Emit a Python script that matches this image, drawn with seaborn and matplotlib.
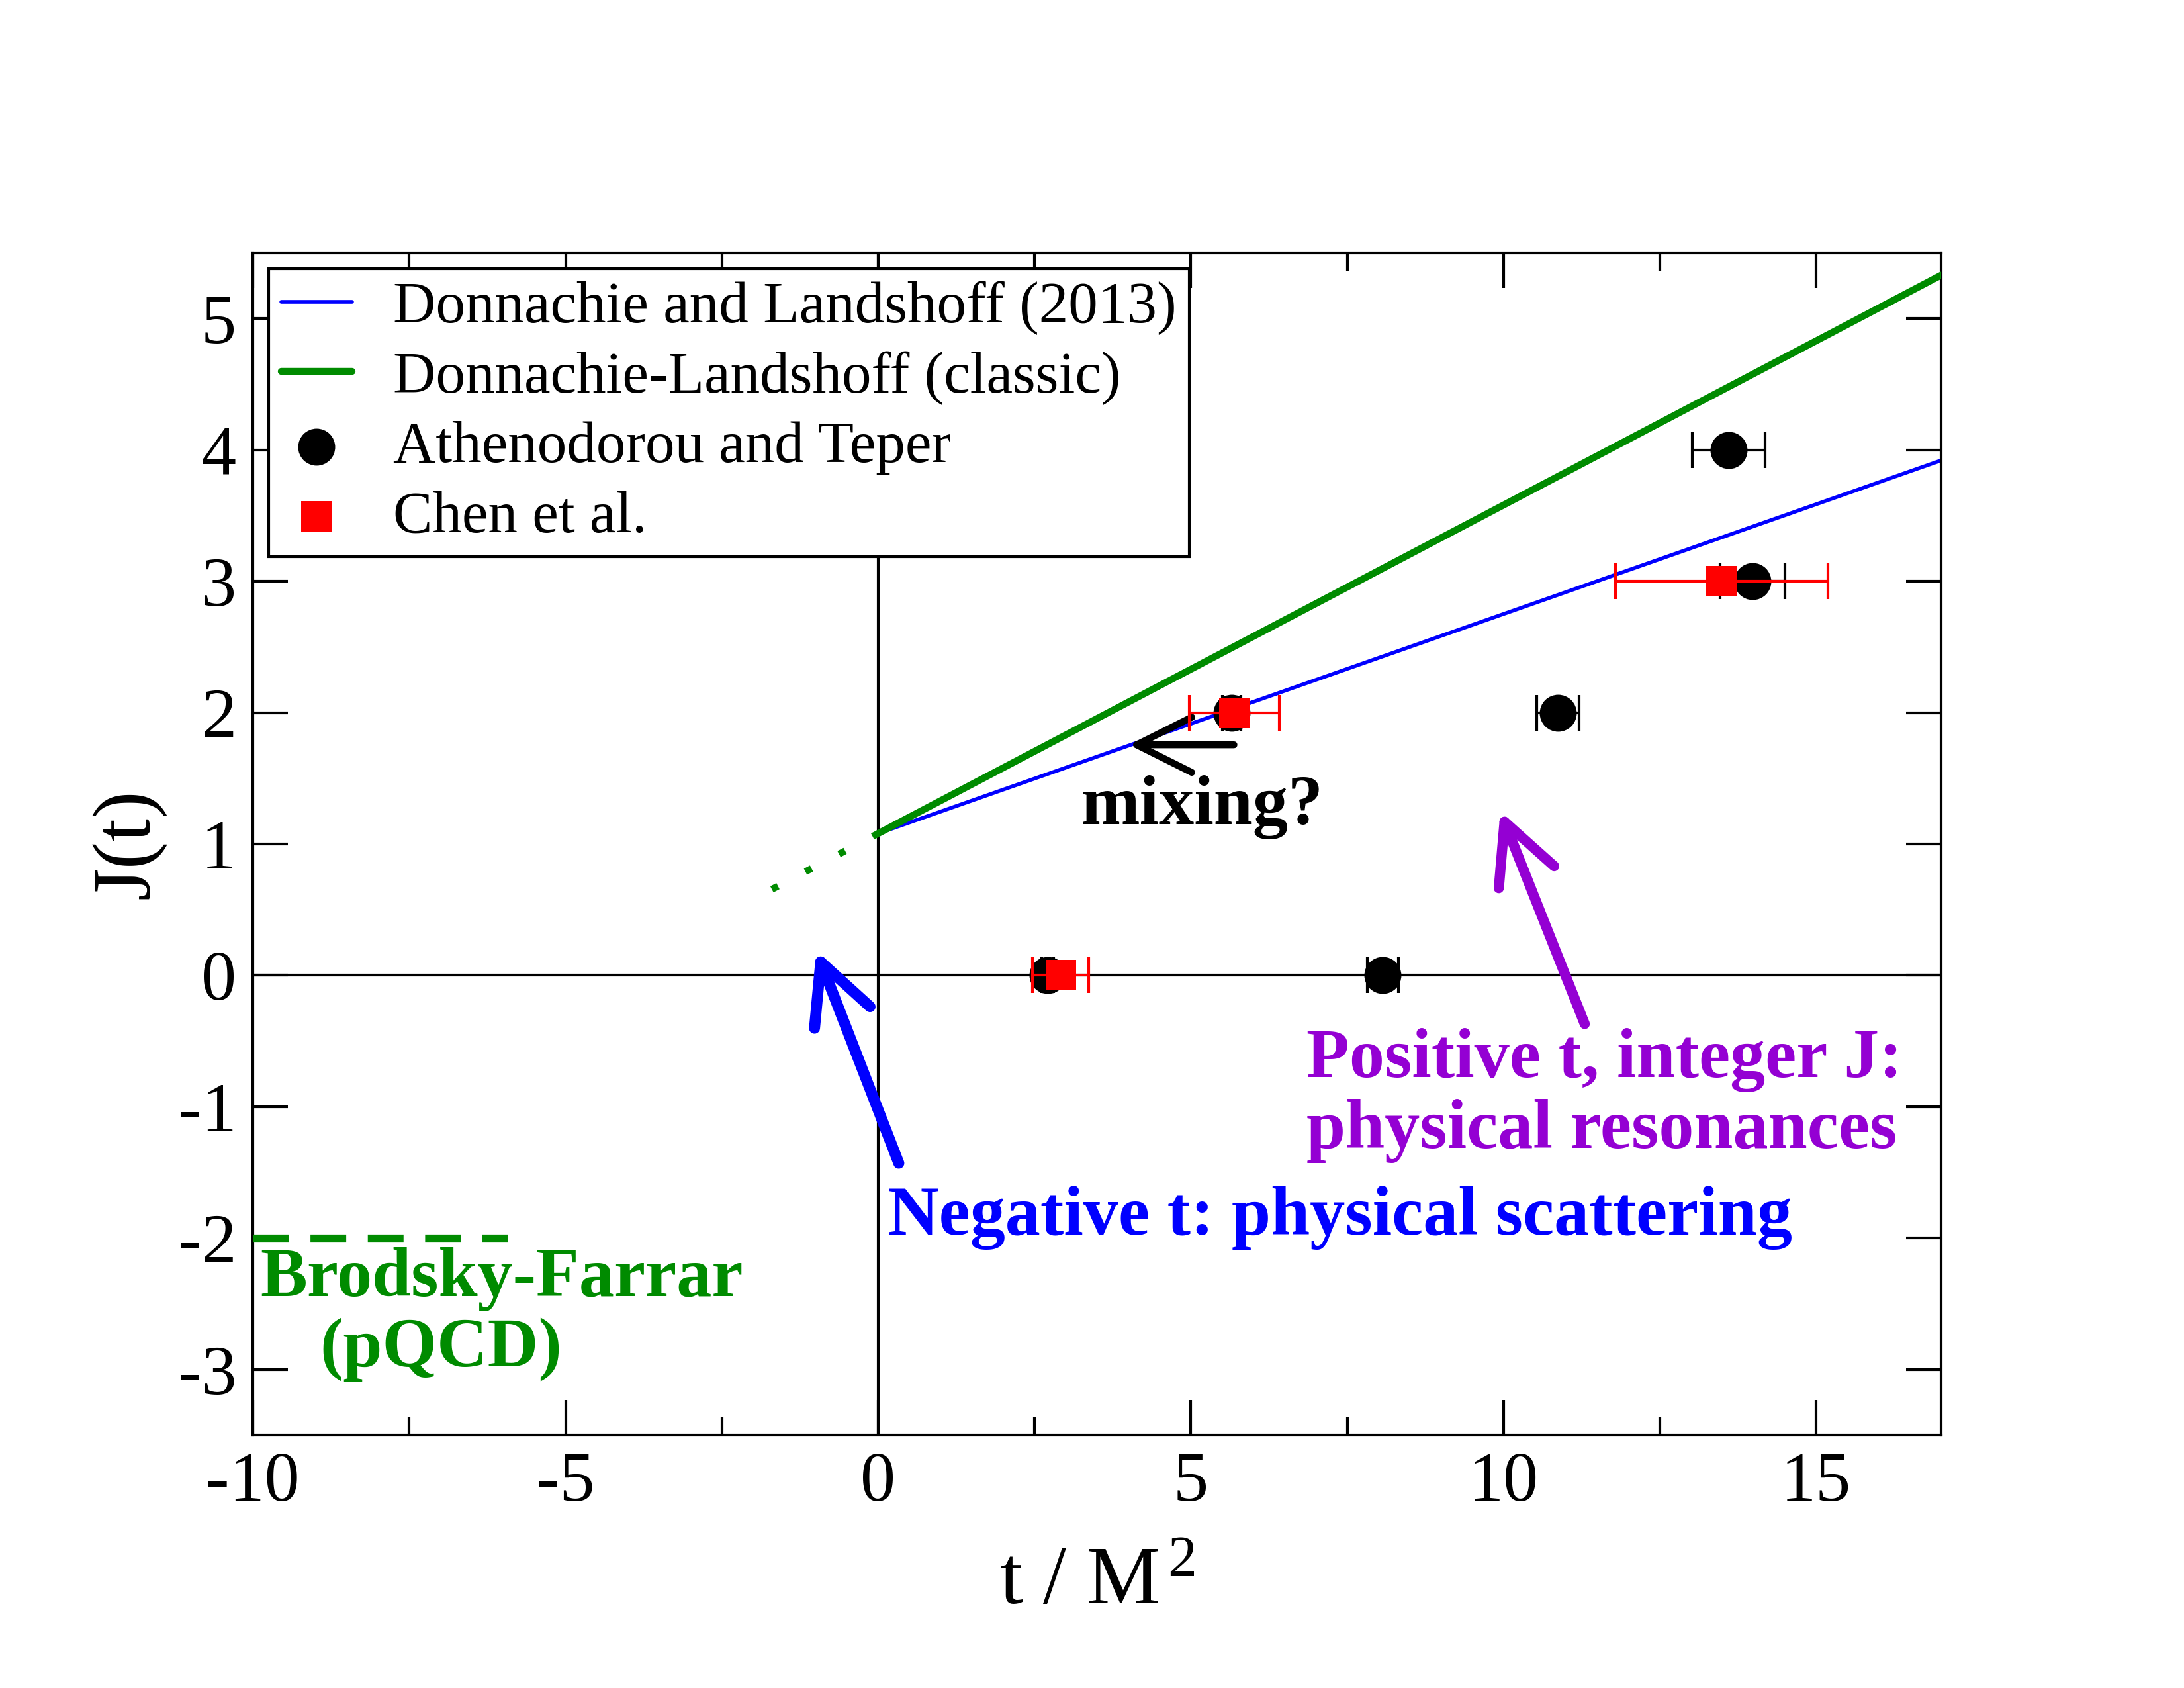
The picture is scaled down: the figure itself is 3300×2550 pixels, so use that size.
import numpy as np
import pandas as pd
import seaborn as sns
import matplotlib.pyplot as plt
from matplotlib.ticker import MultipleLocator, NullLocator

# Regge trajectories (straight lines, end points)
dl2013_t = [0.0, 17.0]
dl2013_J = [1.08, 3.92]
classic_t = [0.0, 17.0]
classic_J = [1.08, 5.33]
# dotted continuation of the classic trajectory into negative t
classic_neg_t = [-1.7, 0.0]
classic_neg_J = [0.655, 1.08]
# Brodsky-Farrar fixed power (pQCD)
bf_t = [-10.0, -5.93]
bf_J = [-2.0, -2.0]

# lattice glueball masses
at_t = [2.71, 8.07, 5.65, 10.87, 13.98, 13.60]
at_J = [0, 0, 2, 2, 3, 4]
at_err = [0.10, 0.25, 0.15, 0.34, 0.52, 0.585]

chen_t = [2.92, 5.70, 13.49]
chen_J = [0, 2, 3]
chen_err = [0.45, 0.72, 1.70]

GREEN = '#008b00'
PURPLE = '#9400d3'

sns.set_theme(style='ticks')
plt.rcParams['font.family'] = ['Liberation Serif', 'DejaVu Serif']
plt.rcParams['mathtext.fontset'] = 'custom'
plt.rcParams['mathtext.rm'] = 'Liberation Serif'
plt.rcParams['mathtext.it'] = 'Liberation Serif:italic'
plt.rcParams['axes.unicode_minus'] = False
# seaborn greys the text, the original is plain black
for key in ['text.color', 'axes.labelcolor', 'xtick.color', 'ytick.color',
            'xtick.labelcolor', 'ytick.labelcolor', 'axes.edgecolor']:
    plt.rcParams[key] = 'black'

fig = plt.figure(figsize=(11, 8.5), dpi=300)
ax = fig.add_axes([0.1158, 0.1498, 0.773, 0.7004])

# axes through the origin
ax.axhline(0, color='black', lw=1.0, zorder=1)
ax.axvline(0, color='black', lw=1.0, zorder=1)

# trajectories
sns.lineplot(x=dl2013_t, y=dl2013_J, color='blue', lw=1.35,
             label='Donnachie and Landshoff (2013)', ax=ax, zorder=2)
sns.lineplot(x=classic_t, y=classic_J, color=GREEN, lw=2.5,
             label='Donnachie-Landshoff (classic)', ax=ax, zorder=3)
ax.plot(classic_neg_t, classic_neg_J, color=GREEN, lw=2.5,
        ls=(0, (1, 4.5)), dash_capstyle='butt', zorder=3)
ax.plot(bf_t, bf_J, color=GREEN, lw=2.7, ls=(0, (4.8, 2.9)),
        dash_capstyle='butt', zorder=3, clip_on=False)

# lattice points
ax.errorbar(at_t, at_J, xerr=at_err, fmt='none', ecolor='black',
            elinewidth=1.0, capsize=6.5, capthick=1.0, zorder=4)
sns.scatterplot(x=at_t, y=at_J, marker='o', s=180, color='black', linewidth=0,
                label='Athenodorou and Teper', ax=ax, zorder=5)
ax.errorbar(chen_t, chen_J, xerr=chen_err, fmt='none', ecolor='red',
            elinewidth=1.0, capsize=6.5, capthick=1.0, zorder=6)
sns.scatterplot(x=chen_t, y=chen_J, marker='s', s=121, color='red', linewidth=0,
                label='Chen et al.', ax=ax, zorder=7)

# annotations
big_head = '->,head_length=0.4,head_width=0.2'
ax.annotate('', xy=(-0.99, 0.19), xytext=(0.33, -1.43),
            arrowprops=dict(arrowstyle=big_head, color='blue', lw=4,
                            mutation_scale=54, shrinkA=0, shrinkB=0))
ax.annotate('', xy=(9.95, 1.25), xytext=(11.30, -0.37),
            arrowprops=dict(arrowstyle=big_head, color=PURPLE, lw=3.7,
                            mutation_scale=54, shrinkA=0, shrinkB=0))
ax.annotate('', xy=(4.01, 1.755), xytext=(5.69, 1.755),
            arrowprops=dict(arrowstyle=big_head, color='black', lw=2.5,
                            mutation_scale=50, shrinkA=0, shrinkB=0))

txt = dict(fontsize=25.5, fontweight='bold', ha='left', va='baseline')
ax.text(3.24, 1.15, 'mixing?', color='black', **txt)
ax.text(6.85, -0.772, 'Positive t, integer J:', color=PURPLE, **txt)
ax.text(6.85, -1.311, 'physical resonances', color=PURPLE, **txt)
ax.text(0.16, -1.972, 'Negative t: physical scattering', color='blue', **txt)
ax.text(-9.88, -2.441, 'Brodsky-Farrar', color=GREEN, **txt)
ax.text(-8.93, -2.976, '(pQCD)', color=GREEN, **txt)

# axes styling
ax.set_xlim(-10, 17)
ax.set_ylim(-3.5, 5.5)
ax.xaxis.set_major_locator(MultipleLocator(5))
ax.xaxis.set_minor_locator(MultipleLocator(2.5))
ax.yaxis.set_major_locator(MultipleLocator(1))
ax.yaxis.set_minor_locator(NullLocator())
ax.tick_params(which='both', direction='in', top=True, right=True,
               width=1.0, color='black', labelcolor='black',
               labelsize=25.5, pad=6)
ax.tick_params(which='major', length=12.7)
ax.tick_params(which='minor', length=6.5)
for sp in ax.spines.values():
    sp.set_visible(True)
    sp.set_linewidth(1.0)
    sp.set_color('black')

ax.set_xlabel('t / M$^{\\,2}$', fontsize=30, labelpad=11)
ax.set_ylabel('J(t)', fontsize=30, labelpad=4)

leg = ax.legend(loc='upper left', fontsize=21.4, frameon=True, fancybox=False,
                edgecolor='black', framealpha=1, borderaxespad=0.27,
                borderpad=0.21, labelspacing=0.27, handlelength=1.2,
                handletextpad=0.7)
leg.get_frame().set_linewidth(1.0)
for t in leg.get_texts():
    t.set_color('black')

fig.savefig('out.png', dpi=300)
